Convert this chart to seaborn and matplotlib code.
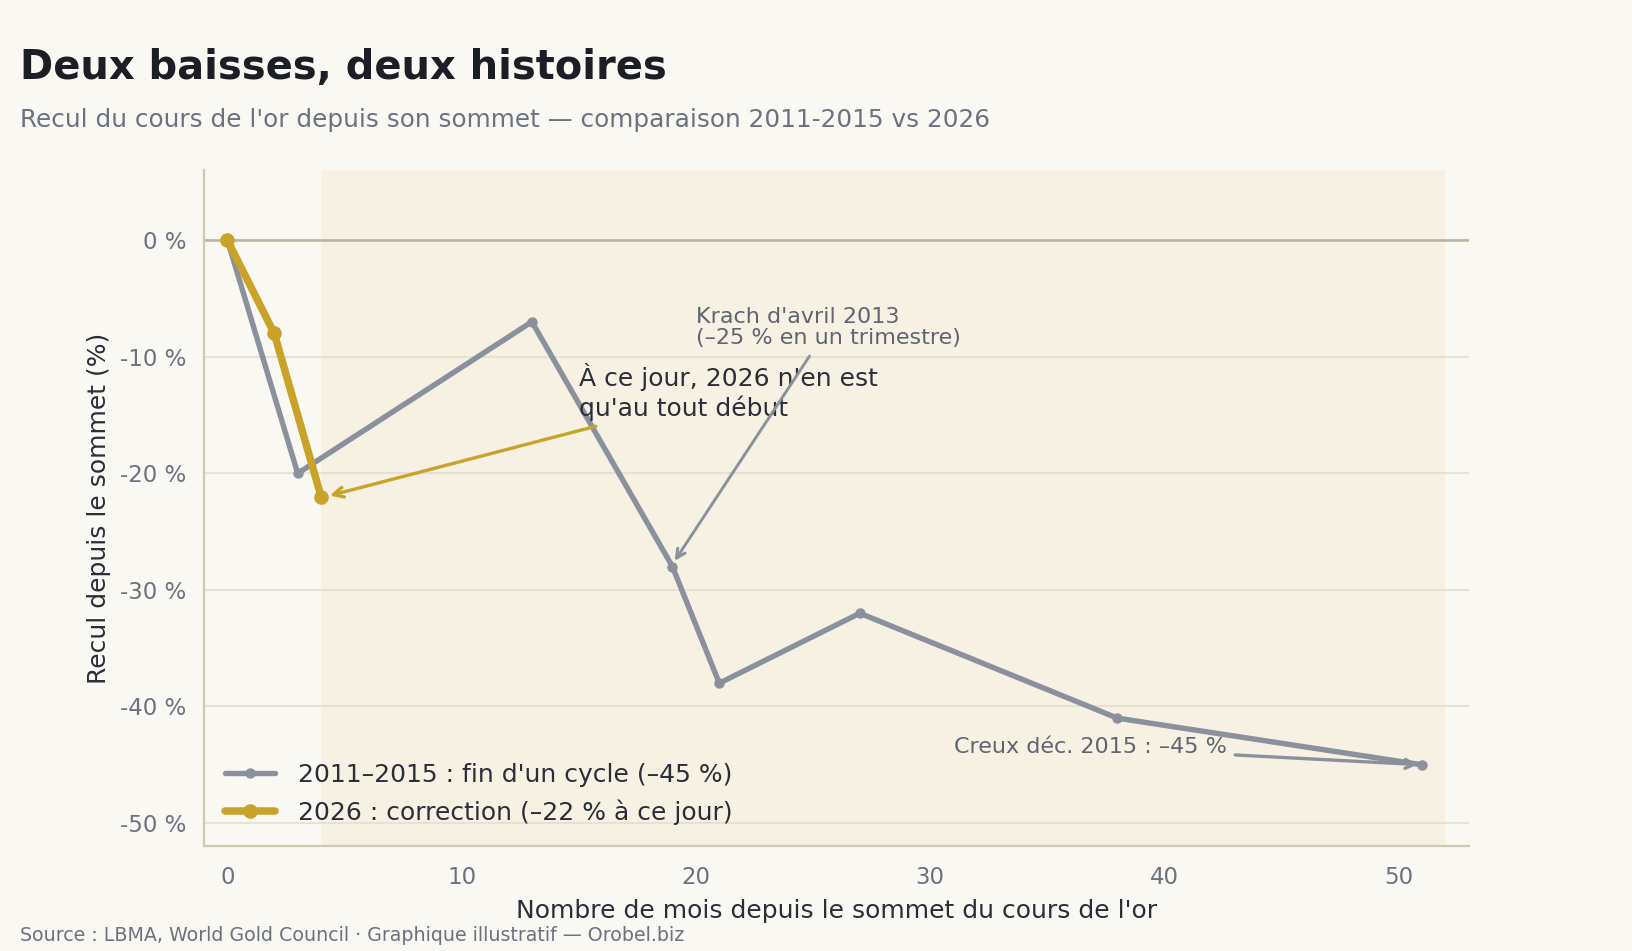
import pandas as pd
import matplotlib.pyplot as plt
import seaborn as sns

# 2011-2015 cycle
mois_2011 = [0, 3, 13, 19, 21, 27, 38, 51]
recul_2011 = [0, -20, -7, -28, -38, -32, -41, -45]
# 2026 correction
mois_2026 = [0, 2, 4]
recul_2026 = [0, -8, -22]

label_2011 = "2011–2015 : fin d'un cycle (–45 %)"
label_2026 = "2026 : correction (–22 % à ce jour)"
y_ticks = [0, -10, -20, -30, -40, -50]
x_ticks = [0, 10, 20, 30, 40, 50]

BG = "#FAF8F3"
GREY = "#8A909C"
GOLD = "#C9A22A"
DARK = "#1B1E25"
MUTED = "#6B7280"

sns.set_theme(style="white")
plt.rcParams['font.family'] = ['DejaVu Sans']

df_2011 = pd.DataFrame({"mois": mois_2011, "recul": recul_2011})
df_2026 = pd.DataFrame({"mois": mois_2026, "recul": recul_2026})

fig = plt.figure(figsize=(10.88, 6.34), dpi=150, facecolor=BG)
ax = fig.add_axes([0.125, 0.110, 0.775, 0.711])
ax.set_facecolor(BG)

ax.axvspan(4, 52, color="#F6F0DF", alpha=0.8, lw=0, zorder=0)
ax.yaxis.grid(True, color="#E6E1D3", lw=1, zorder=1)
ax.axhline(0, color="#B8B2A0", lw=1.2, zorder=2)

sns.lineplot(data=df_2011, x="mois", y="recul", ax=ax, color=GREY, lw=2.6,
             marker="o", markersize=5, markeredgewidth=0, label=label_2011, zorder=3)
sns.lineplot(data=df_2026, x="mois", y="recul", ax=ax, color=GOLD, lw=3.6,
             marker="o", markersize=7, markeredgewidth=0, label=label_2026, zorder=4)

ax.set_xlim(-1, 53)
ax.set_ylim(-52, 6)
ax.set_xticks(x_ticks)
ax.set_yticks(y_ticks)
ax.set_yticklabels([f"{v} %" for v in y_ticks])
ax.tick_params(axis="both", colors=MUTED, labelsize=11, length=5, width=1,
               labelcolor=MUTED)
ax.tick_params(axis="x", pad=4.5)
ax.tick_params(axis="y", pad=3.5)
ax.tick_params(axis="both", color="#8A8A8A")

for s in ["top", "right"]:
    ax.spines[s].set_visible(False)
for s in ["left", "bottom"]:
    ax.spines[s].set_color("#CFC8B5")
    ax.spines[s].set_linewidth(1.1)

ax.set_xlabel("Nombre de mois depuis le sommet du cours de l'or", fontsize=12,
              color="#2A2E38", labelpad=4.5)
ax.set_ylabel("Recul depuis le sommet (%)", fontsize=12, color="#2A2E38", labelpad=4.5)

ax.annotate("À ce jour, 2026 n'en est\nqu'au tout début", xy=(4.2, -22), xytext=(15, -13),
            ha="left", va="center", fontsize=12, color="#2A2E38",
            arrowprops=dict(arrowstyle="->", color=GOLD, lw=1.6))
ax.annotate("Krach d'avril 2013\n(–25 % en un trimestre)", xy=(19, -27.8), xytext=(20, -7.5),
            ha="left", va="center", fontsize=10.7, color="#5F6470", linespacing=1.05,
            arrowprops=dict(arrowstyle="->", color=GREY, lw=1.4))
ax.annotate("Creux déc. 2015 : –45 %", xy=(51, -45), xytext=(31, -43.5),
            ha="left", va="center", fontsize=10.7, color="#5F6470",
            arrowprops=dict(arrowstyle="->", color=GREY, lw=1.6))

leg = ax.legend(loc="lower left", frameon=False, fontsize=12, handlelength=2.0,
                borderaxespad=0.45, labelspacing=0.5, handletextpad=0.9)
for t in leg.get_texts():
    t.set_color("#2A2E38")

fig.text(0.012, 0.950, "Deux baisses, deux histoires", fontsize=19.2, fontweight="bold",
         color=DARK, va="top", ha="left")
fig.text(0.012, 0.886, "Recul du cours de l'or depuis son sommet — comparaison 2011-2015 vs 2026",
         fontsize=11.9, color=MUTED, va="top", ha="left")
fig.text(0.012, 0.006, "Source : LBMA, World Gold Council · Graphique illustratif — Orobel.biz",
         fontsize=9.1, color=MUTED, va="bottom", ha="left")

fig.savefig("out.png", dpi=150, facecolor=BG)
